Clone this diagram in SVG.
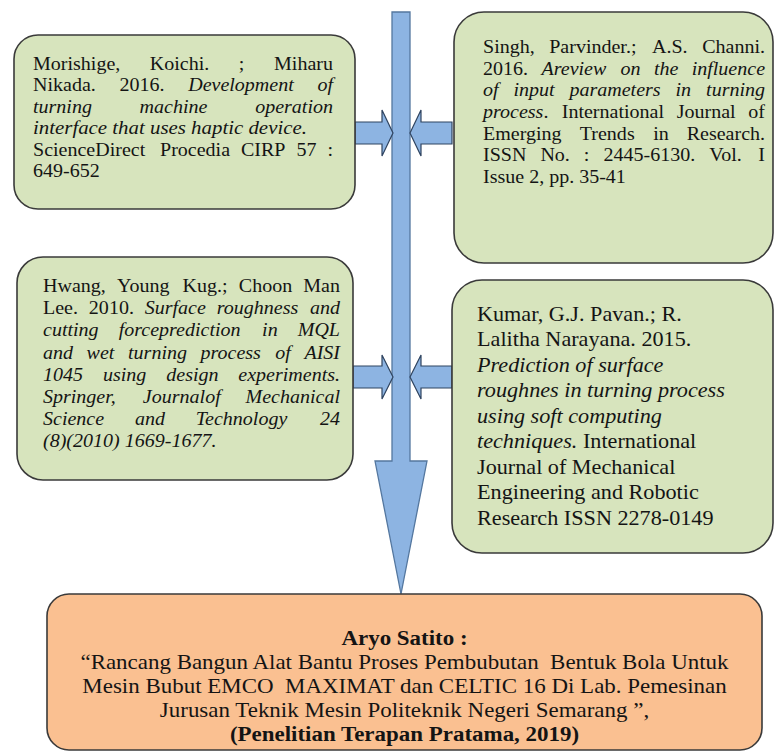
<svg xmlns="http://www.w3.org/2000/svg" width="776" height="753" viewBox="0 0 776 753">
<style>
.green{fill:#d7e4bd;stroke:#3a3a3a;stroke-width:1.6}
.orange{fill:#fac091;stroke:#3a3a3a;stroke-width:1.6}
text{font-family:"Liberation Serif","Times New Roman",serif;fill:#141414}
.t18 text{font-size:18.2px}
.t20 text{font-size:20px}
.t205 text{font-size:20.5px}
.i{font-style:italic}
.b{font-weight:bold}
.shaft{fill:#8db4e2;stroke:#54779f;stroke-width:1.3}
.arr{fill:#8db4e2;stroke:#2f4460;stroke-width:1.2}
</style>
<rect width="776" height="753" fill="#ffffff"/>

<g id="connectors">
<polygon class="shaft" points="392,12 410,12 410,461 427,461 401,594 375,461 392,461"/>
<polygon class="arr" points="355,122 382,122 382,110 393,133 382,156 382,144 355,144"/>
<polygon class="arr" points="452,122 421,122 421,110 410,133 421,156 421,144 452,144"/>
<polygon class="arr" points="353,366 382,366 382,355 393,377 382,399 382,388 353,388"/>
<polygon class="arr" points="452,366 421,366 421,355 410,377 421,399 421,388 452,388"/>
</g>

<g id="ref-morishige">
<rect class="green" x="14" y="35" width="341" height="174" rx="24"/>
<g class="t18" transform="translate(33,0) scale(1.1,1)">
<text y="70"><tspan x="0">Morishige,</tspan><tspan x="106.2">Koichi.</tspan><tspan x="187.1">;</tspan></text>
<text x="272.7" y="70" text-anchor="end">Miharu</text>
<text y="91.4"><tspan x="0">Nikada.</tspan><tspan x="78.6">2016.</tspan><tspan x="141.1" class="i">Development</tspan></text>
<text x="272.7" y="91.4" text-anchor="end" class="i">of</text>
<text y="112.8" class="i"><tspan x="0">turning</tspan><tspan x="96.9">machine</tspan></text>
<text x="272.7" y="112.8" text-anchor="end" class="i">operation</text>
<text x="0" y="134.2" class="i" textLength="249" lengthAdjust="spacingAndGlyphs">interface that uses haptic device.</text>
<text y="155.6"><tspan x="0">ScienceDirect</tspan><tspan x="115.5">Procedia</tspan><tspan x="189.1">CIRP</tspan><tspan x="239.5">57</tspan></text>
<text x="272.7" y="155.6" text-anchor="end">:</text>
<text x="0" y="177">649-652</text>
</g>
</g>

<g id="ref-singh">
<rect class="green" x="454" y="12" width="319" height="251" rx="30"/>
<g class="t18" transform="translate(483,0) scale(1.1,1)">
<text y="53"><tspan x="0">Singh,</tspan><tspan x="60.2">Parvinder.;</tspan><tspan x="153.6">A.S.</tspan></text>
<text x="256.4" y="53" text-anchor="end">Channi.</text>
<text y="74.7"><tspan x="0">2016.</tspan><tspan x="53.2" class="i">Areview</tspan><tspan x="124.9" class="i">on</tspan><tspan x="155.4" class="i">the</tspan></text>
<text x="256.4" y="74.7" text-anchor="end" class="i">influence</text>
<text y="96.4" class="i"><tspan x="0">of</tspan><tspan x="27.7">input</tspan><tspan x="78.6">parameters</tspan><tspan x="175">in</tspan></text>
<text x="256.4" y="96.4" text-anchor="end" class="i">turning</text>
<text y="118.1"><tspan x="0" class="i">process</tspan><tspan>.</tspan><tspan x="71.6">International</tspan><tspan x="176.1">Journal</tspan></text>
<text x="256.4" y="118.1" text-anchor="end">of</text>
<text y="139.8"><tspan x="0">Emerging</tspan><tspan x="88">Trends</tspan><tspan x="154.7">in</tspan></text>
<text x="256.4" y="139.8" text-anchor="end">Research.</text>
<text y="161.5"><tspan x="0">ISSN</tspan><tspan x="52.2">No.</tspan><tspan x="91.7">:</tspan><tspan x="109.6">2445-6130.</tspan><tspan x="205.8">Vol.</tspan></text>
<text x="256.4" y="161.5" text-anchor="end">I</text>
<text x="0" y="183.2">Issue 2, pp. 35-41</text>
</g>
</g>

<g id="ref-hwang">
<rect class="green" x="17" y="257" width="336" height="223" rx="26"/>
<g class="t18" transform="translate(43,0) scale(1.1,1)">
<text y="292"><tspan x="0">Hwang,</tspan><tspan x="67.3">Young</tspan><tspan x="126.9">Kug.;</tspan><tspan x="178">Choon</tspan></text>
<text x="270" y="292" text-anchor="end">Man</text>
<text y="314.2"><tspan x="0">Lee.</tspan><tspan x="41.7">2010.</tspan><tspan x="92.5" class="i">Surface</tspan><tspan x="158" class="i">roughness</tspan></text>
<text x="270" y="314.2" text-anchor="end" class="i">and</text>
<text y="336.4" class="i"><tspan x="0">cutting</tspan><tspan x="68.8">forceprediction</tspan><tspan x="199.2">in</tspan></text>
<text x="270" y="336.4" text-anchor="end" class="i">MQL</text>
<text y="358.6" class="i"><tspan x="0">and</tspan><tspan x="39.6">wet</tspan><tspan x="77.3">turning</tspan><tspan x="143.2">process</tspan><tspan x="211.1">of</tspan></text>
<text x="270" y="358.6" text-anchor="end" class="i">AISI</text>
<text y="380.8" class="i"><tspan x="0">1045</tspan><tspan x="54.5">using</tspan><tspan x="112.1">design</tspan></text>
<text x="270" y="380.8" text-anchor="end" class="i">experiments.</text>
<text y="403" class="i"><tspan x="0">Springer,</tspan><tspan x="90.8">Journalof</tspan></text>
<text x="270" y="403" text-anchor="end" class="i">Mechanical</text>
<text y="425.2" class="i"><tspan x="0">Science</tspan><tspan x="83.6">and</tspan><tspan x="138.9">Technology</tspan></text>
<text x="270" y="425.2" text-anchor="end" class="i">24</text>
<text x="0" y="447.4" class="i">(8)(2010) 1669-1677.</text>
</g>
</g>

<g id="ref-kumar">
<rect class="green" x="452" y="280" width="321" height="273" rx="30"/>
<g class="t20" transform="translate(477,0) scale(1.11,1)">
<text x="0" y="321">Kumar, G.J. Pavan.; R.</text>
<text x="0" y="346.5">Lalitha Narayana. 2015.</text>
<text x="0" y="372" class="i">Prediction of surface</text>
<text x="0" y="397.5" class="i">roughnes in turning process</text>
<text x="0" y="423" class="i">using soft computing</text>
<text x="0" y="448.5"><tspan class="i">techniques.</tspan> International</text>
<text x="0" y="474">Journal of Mechanical</text>
<text x="0" y="499.5">Engineering and Robotic</text>
<text x="0" y="525">Research ISSN 2278-0149</text>
</g>
</g>

<g id="result-satito">
<rect class="orange" x="47" y="594" width="715" height="156" rx="22"/>
<g class="t205" transform="translate(404.5,0) scale(1.12,1)" text-anchor="middle">
<text x="0" y="645" class="b">Aryo Satito :</text>
<text x="0" y="669">“Rancang Bangun Alat Bantu Proses Pembubutan &#160;Bentuk Bola Untuk</text>
<text x="0" y="693">Mesin Bubut EMCO &#160;MAXIMAT dan CELTIC 16 Di Lab. Pemesinan</text>
<text x="0" y="717">Jurusan Teknik Mesin Politeknik Negeri Semarang ”,</text>
<text x="0" y="741" class="b">(Penelitian Terapan Pratama, 2019)</text>
</g>
</g>
</svg>
